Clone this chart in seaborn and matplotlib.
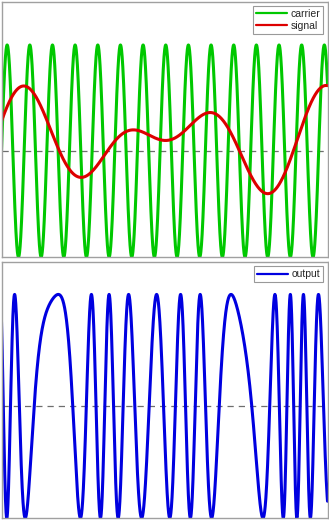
import numpy as np
import pandas as pd
import matplotlib
matplotlib.use("Agg")
import matplotlib.pyplot as plt
import seaborn as sns

# Carrier wave: cycles across the window and starting phase
carrier_freq = 14.39
carrier_phase = 0.0

# Message signal: offset plus a few sinusoidal components
signal_offset = 0.09
signal_freqs = [0.80, 2.20, 3.20]
signal_amps = [0.022, 0.284, 0.267]
signal_phases = [-0.48, 0.294, 0.461]

# Phase-modulated output: carrier cycles, modulation index, phase offset
output_freq = 12.84
output_beta = 8.57
output_phase = -0.12

labels_top = ["carrier", "signal"]
labels_bottom = ["output"]

t = np.linspace(0.0, 1.0, 4000)
signal = signal_offset + sum(a * np.sin(2 * np.pi * f * t + p)
                             for f, a, p in zip(signal_freqs, signal_amps, signal_phases))
carrier = np.sin(2 * np.pi * carrier_freq * t + carrier_phase)
output = np.sin(2 * np.pi * output_freq * t + output_beta * signal + output_phase)

df = pd.DataFrame({"t": t, "carrier": carrier, "signal": signal, "output": output})

sns.set_theme(style="white")
plt.rcParams["font.family"] = ["Liberation Sans", "DejaVu Sans"]

fig = plt.figure(figsize=(3.29, 5.20), dpi=100)
ax1 = fig.add_axes([1.5 / 329, 0.5058, 326 / 329, 0.4913])
ax2 = fig.add_axes([1.5 / 329, 0.00385, 326 / 329, 0.4923])

lw = 2.2
sns.lineplot(data=df, x="t", y="carrier", ax=ax1, color="#00c800", lw=lw, label=labels_top[0])
sns.lineplot(data=df, x="t", y="signal", ax=ax1, color="#dd0000", lw=lw, label=labels_top[1])
sns.lineplot(data=df, x="t", y="output", ax=ax2, color="#0000e0", lw=lw, label=labels_bottom[0])

for ax, top in ((ax1, 1.41), (ax2, 1.29)):
    ax.axhline(0, color="#6e6e6e", lw=0.9, ls=(0, (5, 4)), zorder=1)
    ax.set_xlim(0, 1)
    ax.set_ylim(-1.0, top)
    ax.set_xticks([])
    ax.set_yticks([])
    ax.set_xlabel("")
    ax.set_ylabel("")
    for s in ax.spines.values():
        s.set_color("#a0a0a0")
        s.set_linewidth(1.0)
    leg = ax.legend(loc="upper right", fontsize=7.5, frameon=True, fancybox=False,
                    handlelength=3.0, handletextpad=0.3, borderpad=0.3,
                    labelspacing=0.2, borderaxespad=0.4)
    leg.get_frame().set_edgecolor("#808080")
    leg.get_frame().set_linewidth(0.8)
    for line in leg.get_lines():
        line.set_linewidth(1.6)

fig.savefig("out.png", dpi=100)
